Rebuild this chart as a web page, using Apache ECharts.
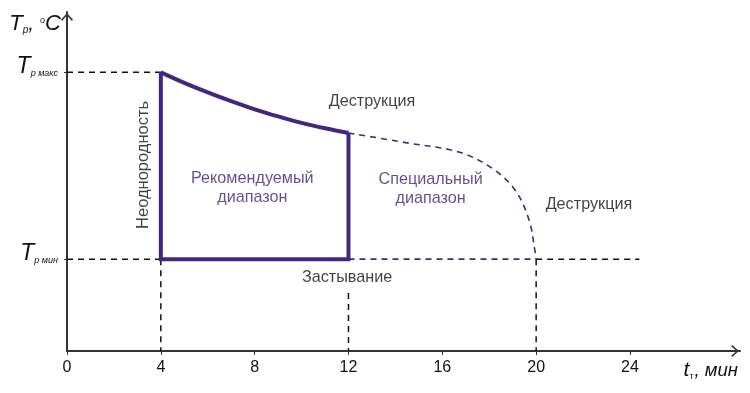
<!DOCTYPE html>
<html><head><meta charset="utf-8">
<script src="https://cdn.jsdelivr.net/npm/echarts@6/dist/echarts.min.js"></script>
<style>html,body{margin:0;padding:0;background:#fff}#c{width:750px;height:393px}</style>
</head><body><div id="c"></div>
<script>
// ---- data ----
const xTicks = [0, 4, 8, 12, 16, 20, 24];
const T_MIN = 27.1;
const T_MAX = 82.2;
// recommended range: upper boundary (destruction), t in min
const recX = [4, 5, 6, 7, 8, 9, 10, 11, 12];
const recY = [82.2, 79.1, 76.3, 73.7, 71.3, 69.2, 67.3, 65.7, 64.3];
// special range upper boundary (dashed)
const specX = [12, 14.5, 16.7, 18.1, 19.1, 19.7, 19.95, 20];
const specY = [64.3, 61.4, 58.7, 54.0, 47.5, 38.6, 29.5, T_MIN];
const yTickLabels = ['T_р мин', 'T_р макс'];
// annotations: [text, x, y, colour kind]
const notes = [
  ['Деструкция', 13.0, 73.5, 'dark'],
  ['Деструкция', 22.25, 43.1, 'dark'],
  ['Застывание', 11.94, 21.8, 'dark'],
  ['Рекомендуемый\nдиапазон', 7.9, 48.0, 'purple'],
  ['Специальный\nдиапазон', 15.5, 47.8, 'purple']
];
const vertNote = ['Неоднородность', 3.24, 54.9];

const PURPLE = '#44267f';
const PURPLE_TXT = '#3c1f78';
const DARK = '#111';
const FONT = '"Liberation Sans", Arial, sans-serif';
const zip = (xs, ys) => xs.map((x, i) => [x, ys[i]]);
const dash = [6, 5];

const chart = echarts.init(document.getElementById('c'));
const lineS = (data, color, width, type, extra) => Object.assign({
  type: 'line', data, symbol: 'none', silent: true, animation: false,
  lineStyle: { color, width, type, cap: 'butt', join: 'miter' }
}, extra || {});

// open chevron pointing "up" (ECharts rotates it along the axis)
const chevron = 'path://M0,0 L9,10 L7.3,11.7 L0,3.4 L-7.3,11.7 L-9,10 Z';

chart.setOption({
  animation: false,
  grid: { left: 67, right: 10, top: 12, bottom: 42, containLabel: false, outerBoundsMode: 'none' },
  xAxis: {
    type: 'value', min: 0, max: 28.69, interval: 4,
    name: '{t|t}{s|т}{n|, мин}', nameLocation: 'end', nameGap: -2,
    nameTextStyle: {
      align: 'right', verticalAlign: 'top', padding: [9, 0, 0, 0],
      rich: {
        t: { fontFamily: FONT, fontStyle: 'italic', fontSize: 21, color: DARK },
        s: { fontFamily: FONT, fontSize: 9, color: DARK, verticalAlign: 'bottom', padding: [10, 1, 0, 0] },
        n: { fontFamily: FONT, fontStyle: 'italic', fontSize: 18.5, color: DARK }
      }
    },
    axisLine: { show: true, symbol: ['none', chevron], symbolSize: [12, 10], symbolOffset: [0, -5],
      lineStyle: { color: '#333', width: 2 } },
    axisTick: { show: true, customValues: xTicks, length: 4, inside: false, lineStyle: { color: '#333', width: 1 } },
    axisLabel: { customValues: xTicks, margin: 9, fontFamily: FONT, fontSize: 16, color: DARK },
    splitLine: { show: false }
  },
  yAxis: {
    type: 'value', min: 0, max: 100,
    name: '{t|T}{s|р}{n|,}{o|o}{c|C}', nameLocation: 'end', nameGap: -12,
    nameTextStyle: {
      align: 'right', verticalAlign: 'middle', padding: [0, 6, 0, 0],
      rich: {
        t: { fontFamily: FONT, fontStyle: 'italic', fontSize: 22, color: DARK },
        s: { fontFamily: FONT, fontStyle: 'italic', fontSize: 10, color: DARK, verticalAlign: 'bottom', padding: [12, 0, 0, 0] },
        o: { fontFamily: FONT, fontSize: 9, color: DARK, verticalAlign: 'top', padding: [3, 0, 0, 6] },
        n: { fontFamily: FONT, fontStyle: 'italic', fontSize: 21, color: DARK },
        c: { fontFamily: FONT, fontStyle: 'italic', fontSize: 22, color: DARK }
      }
    },
    axisLine: { show: true, symbol: ['none', chevron], symbolSize: [12, 10], symbolOffset: [0, -5],
      lineStyle: { color: '#333', width: 2 } },
    axisTick: { show: true, customValues: [T_MIN, T_MAX], length: 3, lineStyle: { color: '#333' } },
    axisLabel: {
      customValues: [T_MIN, T_MAX], margin: 9, padding: [0, 0, 11, 0],
      formatter: v => {
        const lbl = Math.abs(v - T_MIN) < 0.01 ? yTickLabels[0] : yTickLabels[1];
        const p = lbl.split('_');
        return '{t|' + p[0] + '}{s|' + p[1] + '}';
      },
      rich: {
        t: { fontFamily: FONT, fontStyle: 'italic', fontSize: 23, color: DARK },
        s: { fontFamily: FONT, fontStyle: 'italic', fontSize: 9, color: DARK, verticalAlign: 'bottom', padding: [12, 0, 0, 0] }
      }
    },
    splitLine: { show: false }
  },
  series: [
    // black dashed guides
    lineS([[0, T_MAX], [4, T_MAX]], DARK, 1.5, dash),
    lineS([[0, T_MIN], [4, T_MIN]], DARK, 1.5, dash),
    lineS([[20, T_MIN], [24.4, T_MIN]], DARK, 1.5, dash),
    lineS([[4, T_MIN], [4, 0]], DARK, 1.5, dash),
    lineS([[12, 17.1], [12, 0]], DARK, 1.5, dash),
    lineS([[20, T_MIN], [20, 0]], DARK, 1.5, dash),
    // special range (purple dashed)
    lineS([[12, T_MIN], [20, T_MIN]], PURPLE, 1.6, dash),
    lineS(zip(specX, specY), PURPLE, 1.6, dash, { smooth: 0.35 }),
    // recommended range (solid)
    lineS(zip(recX, recY), PURPLE, 4, 'solid', { smooth: 0.3, z: 5 }),
    lineS([[4, T_MAX], [4, T_MIN], [12, T_MIN], [12, recY[recY.length - 1]]], PURPLE, 4, 'solid', { z: 5 }),
    // annotations
    {
      type: 'scatter', symbolSize: 0, silent: true, animation: false,
      data: notes.map(n => ({ value: [n[1], n[2]], name: n[0],
        label: { color: n[3] === 'purple' ? PURPLE_TXT : DARK } })),
      label: { show: true, position: 'inside', formatter: p => p.name,
        fontFamily: FONT, fontSize: 16.2, lineHeight: 19, align: 'center', verticalAlign: 'middle', textBorderWidth: 0 }
    },
    {
      type: 'scatter', symbolSize: 0, silent: true, animation: false,
      data: [{ value: [vertNote[1], vertNote[2]], name: vertNote[0] }],
      label: { show: true, position: 'inside', formatter: p => p.name, rotate: 90,
        fontFamily: FONT, fontSize: 16.5, color: DARK, align: 'center', verticalAlign: 'middle', textBorderWidth: 0 }
    }
  ]
});
</script></body></html>
